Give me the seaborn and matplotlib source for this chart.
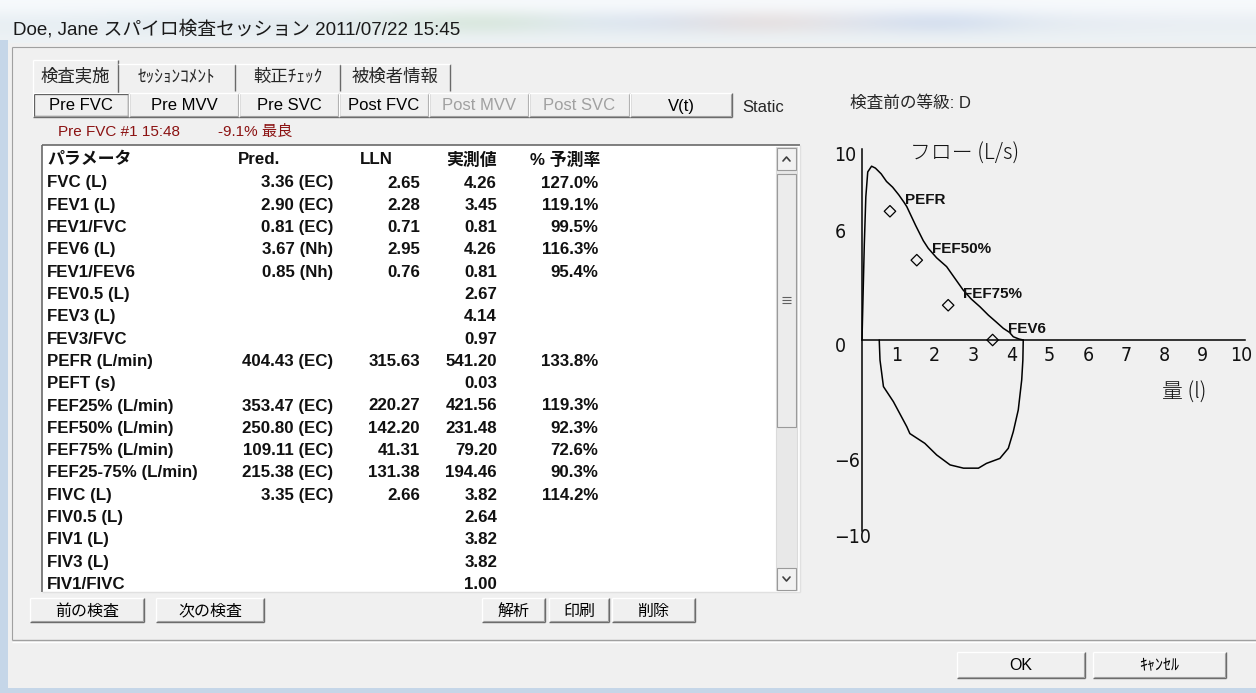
import numpy as np
import pandas as pd
import matplotlib
matplotlib.use("Agg")
import matplotlib.pyplot as plt
from matplotlib.patches import Rectangle
import seaborn as sns

W, H = 1256, 693

# --- window texts ---
title_text = "Doe, Jane スパイロ検査セッション 2011/07/22 15:45"
tab_names = ["検査実施", "ｾｯｼｮﾝｺﾒﾝﾄ", "較正ﾁｪｯｸ", "被検者情報"]
test_buttons = ["Pre FVC", "Pre MVV", "Pre SVC", "Post FVC", "Post MVV", "Post SVC", "V(t)"]
test_enabled = [True, True, True, True, False, False, True]
status_left = "Pre FVC #1 15:48"
status_right = "-9.1% 最良"
grade_text = "検査前の等級: D"
static_text = "Static"
nav_buttons = ["前の検査", "次の検査"]
action_buttons = ["解析", "印刷", "削除"]
dialog_buttons = ["OK", "ｷｬﾝｾﾙ"]

# --- result table ---
col_headers = ["パラメータ", "Pred.", "LLN", "実測値", "% 予測率"]
params = ["FVC (L)", "FEV1 (L)", "FEV1/FVC", "FEV6 (L)", "FEV1/FEV6", "FEV0.5 (L)", "FEV3 (L)",
          "FEV3/FVC", "PEFR (L/min)", "PEFT (s)", "FEF25% (L/min)", "FEF50% (L/min)",
          "FEF75% (L/min)", "FEF25-75% (L/min)", "FIVC (L)", "FIV0.5 (L)", "FIV1 (L)",
          "FIV3 (L)", "FIV1/FIVC"]
pred = ["3.36 (EC)", "2.90 (EC)", "0.81 (EC)", "3.67 (Nh)", "0.85 (Nh)", "", "", "",
        "404.43 (EC)", "", "353.47 (EC)", "250.80 (EC)", "109.11 (EC)", "215.38 (EC)",
        "3.35 (EC)", "", "", "", ""]
lln = ["2.65", "2.28", "0.71", "2.95", "0.76", "", "", "", "315.63", "", "220.27", "142.20",
       "41.31", "131.38", "2.66", "", "", "", ""]
measured = ["4.26", "3.45", "0.81", "4.26", "0.81", "2.67", "4.14", "0.97", "541.20", "0.03",
            "421.56", "231.48", "79.20", "194.46", "3.82", "2.64", "3.82", "3.82", "1.00"]
pct_pred = ["127.0%", "119.1%", "99.5%", "116.3%", "95.4%", "", "", "", "133.8%", "",
            "119.3%", "92.3%", "72.6%", "90.3%", "114.2%", "", "", "", ""]

# --- flow-volume loop (volume L, flow L/s) ---
exp_volume = [0.0, 0.02, 0.06, 0.10, 0.15, 0.25, 0.35, 0.50, 0.64, 0.80, 0.96, 1.10, 1.17, 1.40,
              1.60, 1.73, 1.95, 2.21, 2.40, 2.64, 2.85, 3.08, 3.30, 3.50, 3.69, 3.85, 3.95,
              4.10, 4.21]
exp_flow = [0.0, 1.7, 5.0, 7.5, 8.8, 9.1, 9.0, 8.7, 8.3, 8.0, 7.6, 7.2, 6.98, 6.0, 5.2, 4.8,
            4.3, 3.84, 3.3, 2.62, 2.15, 1.74, 1.3, 0.95, 0.61, 0.4, 0.17, 0.05, 0.0]
insp_volume = [4.21, 4.20, 4.17, 4.08, 3.95, 3.82, 3.60, 3.25, 3.04, 2.65, 2.30, 1.95, 1.64,
               1.25, 1.17, 0.82, 0.56, 0.47, 0.45]
insp_flow = [0.0, -1.05, -2.09, -3.66, -4.8, -5.67, -6.2, -6.46, -6.71, -6.71, -6.54, -6.02,
             -5.41, -4.9, -4.54, -3.23, -2.44, -1.05, 0.0]
pred_names = ["PEFR", "FEF50%", "FEF75%", "FEV6"]
pred_volume = [0.73, 1.43, 2.25, 3.41]
pred_flow = [6.74, 4.18, 1.82, 0.0]
y_tick_labels = [10, 6, 0, -6, -10]
x_tick_labels = [1, 2, 3, 4, 5, 6, 7, 8, 9, 10]

sns.set_style("white")
plt.rcParams["font.family"] = ["Liberation Sans", "Noto Sans CJK JP", "DejaVu Sans"]

BG = "#f0f0f0"
fig = plt.figure(figsize=(W / 100, H / 100), dpi=100)
fig.patch.set_facecolor(BG)
ui = fig.add_axes([0, 0, 1, 1])
ui.set_xlim(0, W)
ui.set_ylim(H, 0)
ui.axis("off")


def hline(x0, x1, y, c="#a0a0a0", lw=0.8):
    ui.plot([x0, x1], [y, y], color=c, lw=lw, solid_capstyle="butt")


def vline(x, y0, y1, c="#a0a0a0", lw=0.8):
    ui.plot([x, x], [y0, y1], color=c, lw=lw, solid_capstyle="butt")


def button(x0, x1, y0, y1, label, color="black", fs=11, face="#f0f0f0"):
    ui.add_patch(Rectangle((x0, y0), x1 - x0, y1 - y0, facecolor=face, edgecolor="none"))
    hline(x0, x1, y0, "#ffffff", 1.0)
    vline(x0, y0, y1, "#ffffff", 1.0)
    hline(x0, x1, y1, "#696969", 1.0)
    vline(x1, y0, y1, "#696969", 1.0)
    hline(x0 + 1, x1 - 1, y1 - 1, "#a0a0a0", 0.8)
    vline(x1 - 1, y0 + 1, y1 - 1, "#a0a0a0", 0.8)
    ui.text((x0 + x1) / 2, (y0 + y1) / 2 + 1, label, ha="center", va="center",
            fontsize=fs, color=color)


# title bar (blurred glass)
glass = np.array([
    [[0.97, 0.98, 0.99]] * 14,
    [[0.90, 0.93, 0.95], [0.88, 0.92, 0.94], [0.86, 0.90, 0.93], [0.88, 0.91, 0.93],
     [0.84, 0.90, 0.88], [0.80, 0.88, 0.80], [0.86, 0.90, 0.94], [0.82, 0.86, 0.92],
     [0.90, 0.84, 0.82], [0.86, 0.88, 0.92], [0.76, 0.82, 0.92], [0.88, 0.91, 0.94],
     [0.90, 0.92, 0.95], [0.91, 0.93, 0.95]],
    [[0.93, 0.95, 0.96]] * 14,
])
ui.imshow(glass, extent=(0, W, 44, 0), aspect="auto", interpolation="bicubic", zorder=0)
ui.add_patch(Rectangle((0, 40), 8, H - 40, facecolor="#c5d6e8", edgecolor="none"))
ui.add_patch(Rectangle((0, 688), W, 5, facecolor="#c5d6e8", edgecolor="none"))
ui.add_patch(Rectangle((8, 43), W - 8, 645, facecolor=BG, edgecolor="none"))
ui.text(13, 29, title_text, fontsize=13.5, va="center", ha="left", color="#1a1a1a")

# dialog frame
hline(12, W, 47)
vline(12, 47, 640)
hline(12, W, 640, "#a0a0a0", 1.0)
hline(12, W, 641.5, "#ffffff", 1.0)

# tabs
tab_edges = [33, 118, 235, 340, 450]
ui.add_patch(Rectangle((33, 60), 85, 33, facecolor=BG, edgecolor="none"))
hline(33, 118, 60, "#ffffff", 1.0)
vline(33, 60, 93, "#ffffff", 1.0)
vline(118, 60, 93, "#696969", 1.0)
for k in range(1, 4):
    vline(tab_edges[k + 1], 64, 91, "#696969", 1.0)
    hline(tab_edges[k], tab_edges[k + 1], 64, "#ffffff", 1.0)
for k, name in enumerate(tab_names):
    ui.text((tab_edges[k] + tab_edges[k + 1]) / 2, 77 if k else 76, name, ha="center",
            va="center", fontsize=12.5)

# test buttons
btn_edges = [33, 129, 239, 339, 429, 529, 630, 732]
for k, (name, on) in enumerate(zip(test_buttons, test_enabled)):
    button(btn_edges[k], btn_edges[k + 1], 93, 117, name,
           color="black" if on else "#a0a0a0", fs=12)
ui.add_patch(Rectangle((34, 94), 94, 22, facecolor="none", edgecolor="#3c3c3c", lw=0.9))
ui.text(742, 108, static_text, fontsize=12, va="center", ha="left")
ui.text(850, 103, grade_text, fontsize=12, va="center", ha="left")
ui.text(58, 132, status_left, fontsize=11, va="center", ha="left", color="#8b1212")
ui.text(218, 132, status_right, fontsize=11, va="center", ha="left", color="#8b1212")

# result table
ui.add_patch(Rectangle((42, 145), 758, 447, facecolor="white", edgecolor="none"))
hline(42, 800, 145, "#696969", 1.2)
vline(42, 145, 592, "#696969", 1.2)
hline(42, 800, 592, "#e0e0e0", 1.0)
vline(800, 145, 592, "#e0e0e0", 1.0)
tk = dict(fontsize=12.2, fontweight="bold", va="center", color="#111111")
ui.text(47, 160, col_headers[0], ha="left", **tk)
ui.text(238, 160, col_headers[1], ha="left", **tk)
ui.text(360, 160, col_headers[2], ha="left", **tk)
ui.text(497, 160, col_headers[3], ha="right", **tk)
ui.text(600, 160, col_headers[4], ha="right", **tk)
for i in range(len(params)):
    y = 183 + 22.3 * i
    ui.text(47, y, params[i], ha="left", **tk)
    ui.text(333, y, pred[i], ha="right", **tk)
    ui.text(420, y, lln[i], ha="right", **tk)
    ui.text(497, y, measured[i], ha="right", **tk)
    ui.text(598, y, pct_pred[i], ha="right", **tk)

# scrollbar
ui.add_patch(Rectangle((776, 147), 21, 443, facecolor="#e8e8e8", edgecolor="#dadada", lw=0.8))
for (y0, y1) in [(148, 170), (568, 590)]:
    ui.add_patch(Rectangle((777, y0), 19, y1 - y0, facecolor="#f2f2f2", edgecolor="#9a9a9a", lw=0.8))
ui.add_patch(Rectangle((777, 174), 19, 253, facecolor="#ececec", edgecolor="#9a9a9a", lw=0.8))
ui.plot([783, 786.5, 790], [161, 157, 161], color="#404040", lw=1.2)
ui.plot([783, 786.5, 790], [577, 581, 577], color="#404040", lw=1.2)
for dy in (-3, 0, 3):
    hline(782, 791, 300 + dy, "#606060", 0.8)

# bottom buttons
for name, (x0, x1) in zip(nav_buttons, [(30, 144), (156, 264)]):
    button(x0, x1, 598, 622, name, fs=11.5)
for name, (x0, x1) in zip(action_buttons, [(482, 545), (549, 609), (612, 695)]):
    button(x0, x1, 598, 622, name, fs=11.5)
for name, (x0, x1) in zip(dialog_buttons, [(957, 1085), (1093, 1226)]):
    button(x0, x1, 652, 678, name, fs=11.5)

# flow-volume chart
fx0, fx1, fy_top, fy_bot = 862, 1245, 149, 531
ax = fig.add_axes([fx0 / W, 1 - fy_bot / H, (fx1 - fx0) / W, (fy_bot - fy_top) / H])
ax.patch.set_alpha(0)
loop_df = pd.concat([
    pd.DataFrame({"volume": exp_volume, "flow": exp_flow, "phase": "exp"}),
    pd.DataFrame({"volume": insp_volume, "flow": insp_flow, "phase": "insp"}),
])
sns.lineplot(data=loop_df, x="volume", y="flow", units="phase", estimator=None, sort=False,
             color="black", lw=1.1, ax=ax)
pred_df = pd.DataFrame({"volume": pred_volume, "flow": pred_flow, "name": pred_names})
sns.scatterplot(data=pred_df, x="volume", y="flow", marker="D", s=34, facecolor="none",
                edgecolor="black", linewidth=0.9, ax=ax, zorder=5)
for _, r in pred_df.iterrows():
    ax.annotate(r["name"], (r["volume"], r["flow"]), xytext=(15, 11), textcoords="offset pixels",
                fontsize=11, fontweight="bold", va="center", ha="left", color="#111111")

ax.set_xlim(0, 10)
ax.set_ylim(-10, 10)
ax.set_xlabel("")
ax.set_ylabel("")
for s in ("top", "right"):
    ax.spines[s].set_visible(False)
ax.spines["bottom"].set_position(("data", 0))
for s in ("left", "bottom"):
    ax.spines[s].set_color("black")
    ax.spines[s].set_linewidth(1.1)
ax.set_xticks(range(1, 11))
ax.set_yticks(range(-10, 11))
ax.tick_params(axis="y", direction="in", length=7.2, width=1, color="black", labelleft=False)
ax.tick_params(axis="x", direction="inout", length=11.5, width=1, color="black", labelbottom=False)
for line in ax.get_lines():
    line.set_clip_on(False)

lab = dict(fontsize=14, fontweight="light", color="#111111",
           family=["DejaVu Sans", "Noto Sans CJK JP"], fontstretch="condensed")
for v in y_tick_labels:
    ax.text(-0.72, v - 0.35, str(v).replace("-", "\u2212"), ha="left", va="center",
            clip_on=False, **lab)
for v in x_tick_labels:
    ax.text(v - 0.1, -0.8, str(v), ha="center", va="center", clip_on=False, **lab)
cjk = dict(fontsize=15, color="#111111", family=["Noto Sans CJK JP", "DejaVu Sans"],
           fontweight="light")
ax.text(1.25, 9.75, "フロー (L/s)", ha="left", va="center", clip_on=False, **cjk)
ax.text(7.83, -2.77, "量 (l)", ha="left", va="center", clip_on=False, **cjk)

fig.savefig("out.png", dpi=100, facecolor=fig.get_facecolor())
